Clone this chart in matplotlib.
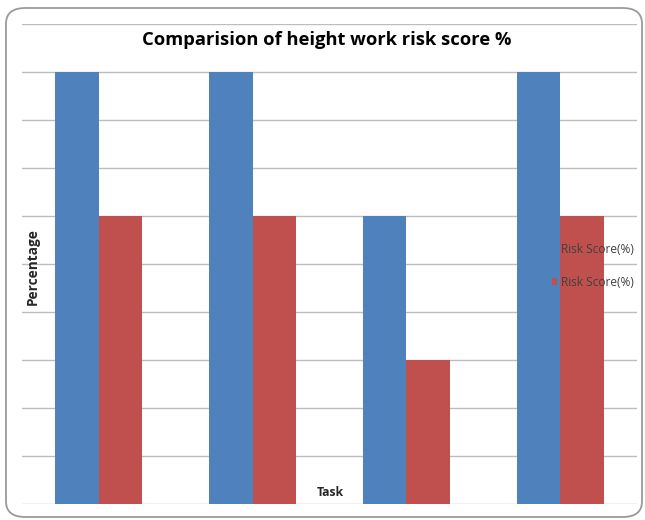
import matplotlib
matplotlib.use("Agg")
import matplotlib.pyplot as plt
import numpy as np
from matplotlib.patches import FancyBboxPatch

# Risk scores (%) for each height-work task
tasks = ["Task 1", "Task 2", "Task 3", "Task 4"]
risk_before = [90, 90, 60, 90]
risk_after = [60, 60, 30, 60]
series_labels = ["Risk Score(%)", "Risk Score(%)"]
y_ticks = [0, 10, 20, 30, 40, 50, 60, 70, 80, 90, 100]

BLUE = "#4F81BD"
RED = "#C0504D"
GRID = "#bdbdbd"
TEXT = "#262626"

fig = plt.figure(figsize=(6.45, 5.2), dpi=100)
W, H = 645, 520

# rounded chart frame (pixel box: x 6..642, y 8..517 from top)
frame = FancyBboxPatch((6 / W, 3 / H), (642 - 6) / W, (517 - 8) / H,
                       boxstyle="round,pad=0,rounding_size=0.03",
                       transform=fig.transFigure, facecolor="none",
                       edgecolor="#9a9a9a", linewidth=1.3, zorder=-1)
fig.patches.append(frame)

ax = fig.add_axes([22 / W, (H - 504) / H, (637 - 22) / W, (504 - 24) / H])
ax.set_zorder(1)
ax.set_facecolor("none")

x = np.arange(len(tasks))
bw = 0.283
ax.bar(x - bw / 2, risk_before, width=bw, color=BLUE, label=series_labels[0], zorder=2)
ax.bar(x + bw / 2, risk_after, width=bw, color=RED, label=series_labels[1], zorder=2)

ax.set_xlim(-0.5, len(tasks) - 0.5)
ax.set_ylim(0, 100)
ax.set_yticks(y_ticks)
ax.yaxis.grid(True, color=GRID, linewidth=1.0, zorder=1)
ax.set_axisbelow(True)
ax.tick_params(left=False, bottom=False, labelleft=False, labelbottom=False)
for s in ax.spines.values():
    s.set_visible(False)

fig.text(327 / W, 1 - 40 / H, "Comparision of height work risk score %",
         ha="center", va="center", fontsize=13.2, fontweight="bold",
         family="Open Sans", color="black", zorder=5)

fig.text(33 / W, 1 - 267 / H, "Percentage", rotation=90, ha="center", va="center",
         fontsize=9.8, fontweight="bold", family="Open Sans", color=TEXT, zorder=5)
fig.text(330 / W, 1 - 492 / H, "Task", ha="center", va="center",
         fontsize=8.8, fontweight="bold", family="Open Sans", color=TEXT, zorder=5)

leg = ax.legend(loc="center left", bbox_to_anchor=(541 / W, 1 - 266 / H),
                bbox_transform=fig.transFigure, frameon=False,
                prop={"family": "Open Sans", "size": 8.6},
                handlelength=0.45, handleheight=0.45, handletextpad=0.35,
                labelspacing=1.6, labelcolor="#404040")

fig.savefig("out.png", dpi=100)
